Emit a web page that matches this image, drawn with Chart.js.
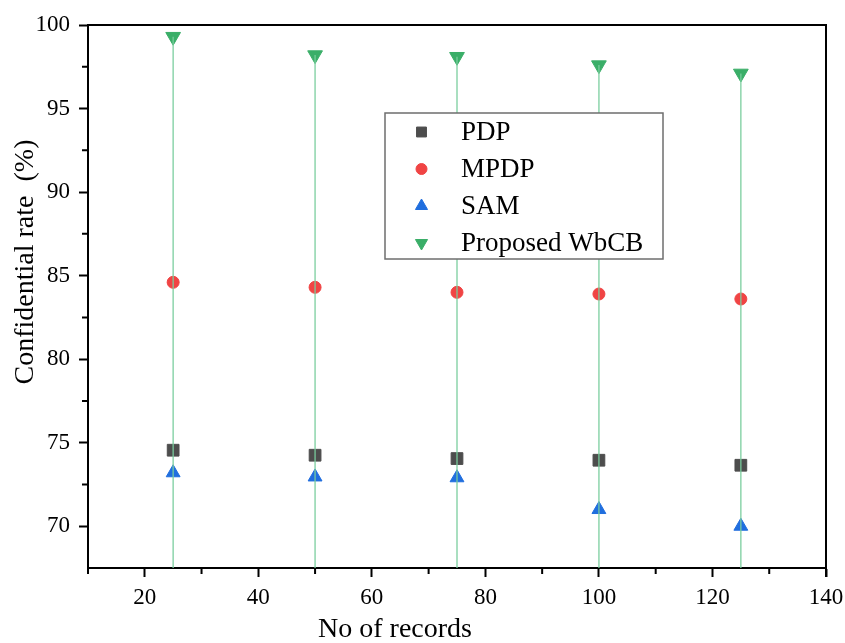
<!DOCTYPE html>
<html>
<head>
<meta charset="utf-8">
<script src="https://cdn.jsdelivr.net/npm/chart.js@4/dist/chart.umd.min.js"></script>
<style>
  html, body { margin: 0; padding: 0; background: #fff; }
  #wrap { width: 845px; height: 643px; position: relative; }
</style>
</head>
<body>
<div id="wrap"><canvas id="c" width="845" height="643"></canvas></div>
<script>
// ---- data ----
const records = [25, 50, 75, 100, 125];
const pdp = [74.55, 74.25, 74.05, 73.95, 73.65];
const mpdp = [84.6, 84.3, 84.0, 83.9, 83.6];
const sam = [73.2, 72.95, 72.9, 71.0, 70.0];
const wbcb = [99.3, 98.2, 98.1, 97.6, 97.1];
const seriesNames = ['PDP', 'MPDP', 'SAM', 'Proposed WbCB'];
const xTicks = [20, 40, 60, 80, 100, 120, 140];
const xMinorTicks = [10, 30, 50, 70, 90, 110, 130];
const yTicks = [70, 75, 80, 85, 90, 95, 100];
const yMinorTicks = [72.5, 77.5, 82.5, 87.5, 92.5, 97.5];
const xTitle = 'No of records';
const yTitle = 'Confidential rate  (%)';

const FONT = '"Liberation Serif", "Times New Roman", serif';
const pts = (arr) => records.map((x, i) => ({ x: x, y: arr[i] }));

const colors = {
  pdp: 'rgb(77,77,77)',
  mpdp: 'rgb(240,68,68)',
  sam: 'rgb(32,110,222)',
  wbcb: 'rgb(58,174,104)',
  drop: 'rgba(120,204,156,0.85)'
};

const dropLines = {
  id: 'dropLines',
  afterDatasetsDraw(chart) {
    const meta = chart.getDatasetMeta(3);
    const ctx = chart.ctx;
    const bottom = chart.scales.y.getPixelForValue(chart.scales.y.min);
    ctx.save();
    ctx.strokeStyle = colors.drop;
    ctx.lineWidth = 1.5;
    meta.data.forEach(el => {
      ctx.beginPath();
      ctx.moveTo(el.x, el.y);
      ctx.lineTo(el.x, bottom);
      ctx.stroke();
    });
    ctx.restore();
  }
};

const frame = {
  id: 'frame',
  afterDraw(chart) {
    const ctx = chart.ctx;
    const a = chart.chartArea;
    const xs = chart.scales.x, ys = chart.scales.y;
    ctx.save();
    ctx.strokeStyle = '#000';
    ctx.lineWidth = 2;
    // top and right frame
    ctx.beginPath();
    ctx.moveTo(a.left - 1, a.top);
    ctx.lineTo(a.right, a.top);
    ctx.lineTo(a.right, a.bottom + 9);
    ctx.stroke();
    // minor ticks
    ctx.beginPath();
    xMinorTicks.forEach(v => {
      const px = xs.getPixelForValue(v);
      ctx.moveTo(px, a.bottom);
      ctx.lineTo(px, a.bottom + 6);
    });
    yMinorTicks.forEach(v => {
      const py = ys.getPixelForValue(v);
      ctx.moveTo(a.left, py);
      ctx.lineTo(a.left - 6, py);
    });
    ctx.stroke();

    // axis titles
    ctx.fillStyle = '#000';
    ctx.font = '28px ' + FONT;
    ctx.textAlign = 'center';
    ctx.textBaseline = 'alphabetic';
    ctx.fillText(xTitle, 395, 637);
    ctx.save();
    ctx.translate(33, 262);
    ctx.rotate(-Math.PI / 2);
    ctx.fillText(yTitle, 0, 0);
    ctx.restore();

    // legend box
    const lx = 385, ly = 113, lw = 278, lh = 146;
    ctx.fillStyle = '#fff';
    ctx.fillRect(lx, ly, lw, lh);
    ctx.strokeStyle = '#6e6e6e';
    ctx.lineWidth = 1.5;
    ctx.strokeRect(lx, ly, lw, lh);
    const rowY = [132, 169, 206, 243];
    ctx.font = '27px ' + FONT;
    ctx.textAlign = 'left';
    ctx.textBaseline = 'middle';
    chart.data.datasets.forEach((ds, i) => {
      if (i > 3) return;
      ctx.fillStyle = ds.backgroundColor;
      ctx.strokeStyle = ds.borderColor;
      ctx.lineWidth = 1;
      Chart.helpers.drawPoint(ctx, {
        pointStyle: ds.pointStyle,
        radius: ds.legendRadius,
        rotation: ds.rotation || 0,
        borderWidth: 1
      }, 421.5, rowY[i]);
      ctx.fillStyle = '#000';
      ctx.fillText(ds.label, 461, rowY[i] + 1);
    });
    ctx.restore();
  }
};

new Chart(document.getElementById('c'), {
  type: 'scatter',
  data: {
    datasets: [
      { label: seriesNames[0], data: pts(pdp), pointStyle: 'rect', pointRadius: 8.3, legendRadius: 7,
        backgroundColor: colors.pdp, borderColor: colors.pdp, borderWidth: 1 },
      { label: seriesNames[1], data: pts(mpdp), pointStyle: 'circle', pointRadius: 6, legendRadius: 5.5,
        backgroundColor: colors.mpdp, borderColor: colors.mpdp, borderWidth: 1 },
      { label: seriesNames[2], data: pts(sam), pointStyle: 'triangle', pointRadius: 8, legendRadius: 7,
        backgroundColor: colors.sam, borderColor: colors.sam, borderWidth: 1 },
      { label: seriesNames[3], data: pts(wbcb), pointStyle: 'triangle', pointRadius: 8.5, rotation: 180, legendRadius: 7,
        pointRotation: 180,
        backgroundColor: colors.wbcb, borderColor: colors.wbcb, borderWidth: 1 }
    ]
  },
  options: {
    responsive: false,
    animation: false,
    devicePixelRatio: 1,
    layout: { padding: { top: 25, right: 19, left: 0, bottom: 0 } },
    plugins: {
      legend: { display: false },
      tooltip: { enabled: false }
    },
    scales: {
      x: {
        type: 'linear',
        min: 10, max: 140,
        afterBuildTicks: (s) => { s.ticks = xTicks.map(v => ({ value: v })); },
        afterFit: (s) => { s.height = 75; s.paddingLeft = 0; s.paddingRight = 0; },
        ticks: { color: '#000', font: { family: FONT, size: 23 }, padding: 7, maxRotation: 0, autoSkip: false },
        grid: { drawOnChartArea: false, drawTicks: true, tickLength: 9, tickWidth: 2, tickColor: '#000' },
        border: { display: true, color: '#000', width: 2 }
      },
      y: {
        type: 'linear',
        min: 67.5, max: 100,
        afterBuildTicks: (s) => { s.ticks = yTicks.map(v => ({ value: v })); },
        afterFit: (s) => { s.width = 88; s.paddingTop = 0; s.paddingBottom = 0; },
        ticks: { color: '#000', font: { family: FONT, size: 23 }, padding: 9, autoSkip: false },
        grid: { drawOnChartArea: false, drawTicks: true, tickLength: 9, tickWidth: 2, tickColor: '#000' },
        border: { display: true, color: '#000', width: 2 }
      }
    }
  },
  plugins: [dropLines, frame]
});
</script>
</body>
</html>
